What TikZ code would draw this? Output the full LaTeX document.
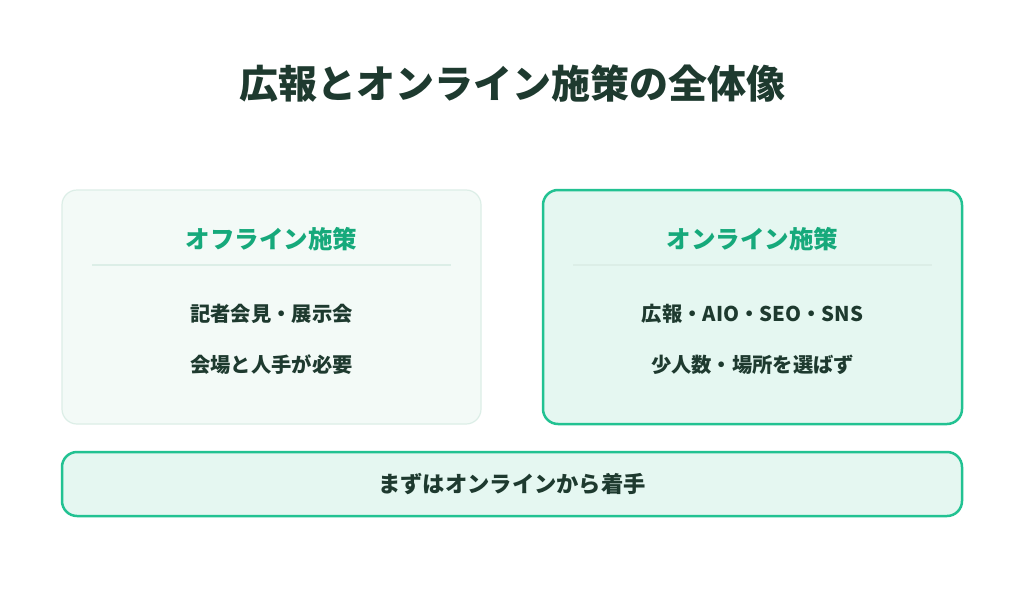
\documentclass[tikz,border=0pt]{standalone}
\usepackage{fontspec}
\setmainfont{Noto Sans CJK JP}
\usetikzlibrary{positioning}
\definecolor{inkdark}{HTML}{1E3A2F}
\definecolor{leafgreen}{HTML}{16A97B}
\definecolor{rimgreen}{HTML}{22C292}
\definecolor{paleline}{HTML}{DCEEE7}
\definecolor{offfill}{HTML}{F3FAF7}
\definecolor{onfill}{HTML}{E5F7F1}
\tikzset{
    offcard/.style={draw=paleline, fill=offfill, line width=1.2pt, rounded corners=15pt},
    oncard/.style={draw=rimgreen, fill=onfill, line width=2.5pt, rounded corners=15pt},
    cardhead/.style={text=leafgreen, font=\fontsize{24.5}{29}\selectfont\bfseries},
    cardline/.style={text=inkdark, font=\fontsize{20.3}{25}\selectfont\bfseries},
}
\begin{document}
\begin{tikzpicture}[x=1pt,y=-1pt]

    % Canvas
    \useasboundingbox[fill=white] (0,0) rectangle (1024,594);

    % Title
    \node[text=inkdark, font=\fontsize{39}{45}\selectfont\bfseries] (title) at (512,84) {広報とオンライン施策の全体像};

    %%% LEFT CARD
    \draw[offcard] (62,190) rectangle (481,424);
    \node[cardhead] (offhead) at (271.5,239) {オフライン施策};
    \coordinate (offL) at (92,265);
    \coordinate (offR) at (451,265);
    \draw[paleline, line width=1.2pt] (offL) -- (offR);
    \node[cardline] (offA) at (271.5,314) {記者会見・展示会};
    \node[cardline] (offB) at (271.5,365) {会場と人手が必要};

    %%% RIGHT CARD
    \draw[oncard] (543,190) rectangle (962,424);
    \node[cardhead] (onhead) at (752.5,239) {オンライン施策};
    \coordinate (onL) at (573,265);
    \coordinate (onR) at (932,265);
    \draw[paleline, line width=1.2pt] (onL) -- (onR);
    \node[cardline] (onA) at (752.5,314) {広報・AIO・SEO・SNS};
    \node[cardline] (onB) at (752.5,365) {少人数・場所を選ばず};

    %%% BOTTOM BAR
    \draw[oncard] (62,452) rectangle (962,516);
    \node[cardline, font=\fontsize{22.3}{27}\selectfont\bfseries] (start) at (512,484) {まずはオンラインから着手};

\end{tikzpicture}
\end{document}
